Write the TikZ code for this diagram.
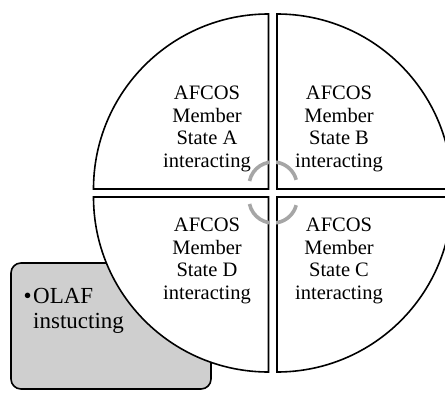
\documentclass[tikz,border=0pt]{standalone}
\usepackage{fontspec}
\setmainfont{Liberation Serif}
\begin{document}
\begin{tikzpicture}[x=1pt,y=1pt,
  quad/.style={draw=black,line width=1.6pt,fill=white,line join=miter},
  quadtext/.style={align=center,inner sep=0pt,anchor=north,font=\fontsize{20.5}{22.5}\selectfont},
  cyc/.style={draw=black!35,line width=3.6pt},
  olafbox/.style={draw=black,line width=1.6pt,fill=black!19,rounded corners=10pt}]
\useasboundingbox (0,0) rectangle (445,392);
% OLAF box (behind circle)
\draw[olafbox] (11,3) rectangle (211,129);
\node[anchor=base west,inner sep=0pt,align=left,font=\fontsize{23}{25}\selectfont] (olaf) at (33,64)
  {\llap{\textbullet\hspace{1.5pt}}OLAF\\instucting};
% quadrants
\draw[quad] (268.5,203) -- ++(-175,0) arc (180:90:175) -- cycle;
\draw[quad] (277,203) -- ++(0,175) arc (90:0:175) -- cycle;
\draw[quad] (268.5,195) -- ++(-175,0) arc (180:270:175) -- cycle;
\draw[quad] (277,195) -- ++(0,-175) arc (270:360:175) -- cycle;
% cycle arcs, hidden in the gap
\begin{scope}
\clip (0,0) rectangle (269.4,392) (276.1,0) rectangle (445,392);
\draw[cyc] (273,206) ++(168:24) arc (168:15:24);
\draw[cyc] (273,193) ++(192:24) arc (192:345:24);
\end{scope}
% texts
\node[quadtext] (a) at (207,306) {AFCOS\\Member\\State A\\interacting};
\node[quadtext] (b) at (339,306) {AFCOS\\Member\\State B\\interacting};
\node[quadtext] (d) at (207,174) {AFCOS\\Member\\State D\\interacting};
\node[quadtext] (c) at (339,174) {AFCOS\\Member\\State C\\interacting};
\end{tikzpicture}
\end{document}
